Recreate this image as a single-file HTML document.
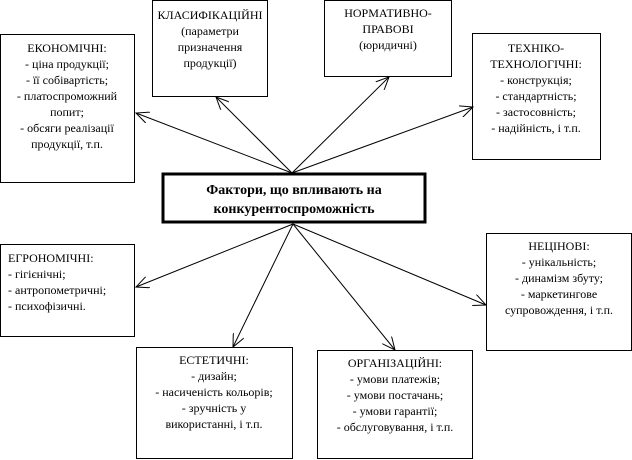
<!DOCTYPE html>
<html><head><meta charset="utf-8"><style>
body{margin:0;background:#fff;}
svg{display:block;}
text{font-family:"Liberation Serif","Times New Roman",serif;font-size:12px;fill:#000;text-anchor:middle;}
</style></head><body>
<svg width="632" height="460" viewBox="0 0 632 460" font-family="Liberation Serif, serif">
<defs><marker id="a" markerWidth="14" markerHeight="12" refX="13" refY="6" orient="auto" markerUnits="userSpaceOnUse"><path d="M0,0 L13,6 L0,12" fill="none" stroke="#000" stroke-width="1"/></marker></defs>
<g fill="#fff" stroke="#000" stroke-width="1">
<rect x="0.5" y="34.5" width="134" height="148"/>
<rect x="152.5" y="0.5" width="115" height="96"/>
<rect x="324.5" y="0.5" width="127" height="76"/>
<rect x="472.5" y="33.5" width="128" height="126"/>
<rect x="0.5" y="244.5" width="134" height="92"/>
<rect x="136.5" y="347.5" width="156" height="111"/>
<rect x="317.5" y="350.5" width="155" height="108"/>
<rect x="486.5" y="233.5" width="145" height="117"/>
<rect x="163" y="174" width="262" height="48" stroke-width="3"/>
</g>
<g stroke="#000" stroke-width="1" marker-end="url(#a)">
<line x1="292" y1="173" x2="136" y2="113"/>
<line x1="292" y1="173" x2="216" y2="97"/>
<line x1="292" y1="173" x2="389" y2="77"/>
<line x1="292" y1="173" x2="473" y2="107"/>
<line x1="293" y1="224" x2="136" y2="287"/>
<line x1="293" y1="224" x2="233" y2="347"/>
<line x1="293" y1="224" x2="395" y2="350"/>
<line x1="293" y1="224" x2="486" y2="305"/>
</g>
<text x="294" y="194" font-weight="bold" font-size="14" style="font-size:14px;font-weight:bold">Фактори, що впливають на</text>
<text x="294" y="213" font-weight="bold" font-size="14" style="font-size:14px;font-weight:bold">конкурентоспроможність</text>
<g>
<text x="67" y="52">ЕКОНОМІЧНІ:</text>
<text x="67" y="68">- ціна продукції;</text>
<text x="67" y="84">- її собівартість;</text>
<text x="67" y="100">- платоспроможний</text>
<text x="67" y="116">попит;</text>
<text x="67" y="132">- обсяги реалізації</text>
<text x="67" y="148">продукції, т.п.</text>
<text x="210" y="19">КЛАСИФІКАЦІЙНІ</text>
<text x="210" y="35">(параметри</text>
<text x="210" y="51">призначення</text>
<text x="210" y="67">продукції)</text>
<text x="388" y="17">НОРМАТИВНО-</text>
<text x="388" y="33">ПРАВОВІ</text>
<text x="388" y="49">(юридичні)</text>
<text x="536" y="52">ТЕХНІКО-</text>
<text x="536" y="68">ТЕХНОЛОГІЧНІ:</text>
<text x="536" y="84">- конструкція;</text>
<text x="536" y="100">- стандартність;</text>
<text x="536" y="116">- застосовність;</text>
<text x="536" y="132">- надійність, і т.п.</text>
<text x="8" y="262" style="text-anchor:start">ЕГРОНОМІЧНІ:</text>
<text x="8" y="278" style="text-anchor:start">- гігієнічні;</text>
<text x="8" y="294" style="text-anchor:start">- антропометричні;</text>
<text x="8" y="310" style="text-anchor:start">- психофізичні.</text>
<text x="214" y="364">ЕСТЕТИЧНІ:</text>
<text x="214" y="380">- дизайн;</text>
<text x="214" y="396">- насиченість кольорів;</text>
<text x="214" y="412">- зручність у</text>
<text x="214" y="428">використанні, і т.п.</text>
<text x="395" y="367">ОРГАНІЗАЦІЙНІ:</text>
<text x="395" y="383">- умови платежів;</text>
<text x="395" y="399">- умови постачань;</text>
<text x="395" y="415">- умови гарантії;</text>
<text x="395" y="431">- обслуговування, і т.п.</text>
<text x="559" y="250">НЕЦІНОВІ:</text>
<text x="559" y="266">- унікальність;</text>
<text x="559" y="282">- динамізм збуту;</text>
<text x="559" y="298">- маркетингове</text>
<text x="559" y="314">супровождення, і т.п.</text>
</g>
</svg>
</body></html>
